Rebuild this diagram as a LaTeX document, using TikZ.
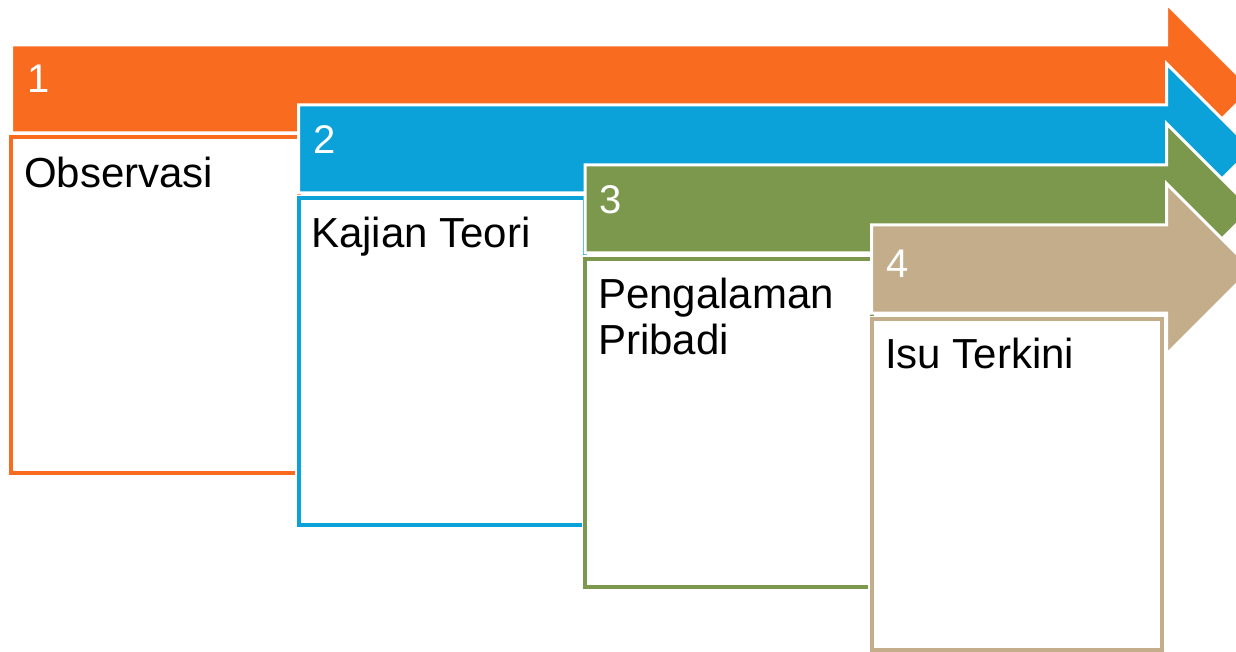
\documentclass[tikz,border=0pt]{standalone}
\usepackage{fontspec}
\setmainfont{Liberation Sans}
\usepackage{xcolor}
\usepackage{tikz}

\definecolor{stepOrange}{HTML}{F96B1E}
\definecolor{stepBlue}{HTML}{0AA2D8}
\definecolor{stepGreen}{HTML}{7C984C}
\definecolor{stepTan}{HTML}{C4AD8A}

\tikzset{
  stagearrow/.style={fill=#1, draw=white, line width=3pt, line join=miter},
  stagebox/.style={fill=white, draw=white, double=#1, double distance=4pt, line width=1.5pt},
  stagenum/.style={anchor=base west, inner sep=0pt, text=white, font=\fontsize{40}{46}\selectfont},
  stagetext/.style={anchor=base west, inner sep=0pt, text=black, align=left, font=\fontsize{42}{46}\selectfont}
}

\begin{document}
\begin{tikzpicture}[x=1pt,y=-1pt]
\useasboundingbox (0,0) rectangle (1236,652);
\clip (0,0) rectangle (1236,652);

% step 1
\draw[stagearrow=stepOrange] (11.5,45) -- (1166.5,45) -- (1166.5,3.5) -- (1252,89) -- (1166.5,174.5) -- (1166.5,133) -- (11.5,133) -- cycle;
\draw[stagebox=stepOrange] (10.5,137) rectangle (298.5,473);
\node[stagenum] (num1) at (27,93) {1};
\node[stagetext] (obs) at (24,188) {Observasi};

% step 2
\draw[stagearrow=stepBlue] (298.5,105) -- (1166.5,105) -- (1166.5,63.5) -- (1252,149) -- (1166.5,234.5) -- (1166.5,193) -- (298.5,193) -- cycle;
\draw[stagebox=stepBlue] (298.5,198.5) rectangle (585,525);
\node[stagenum] (num2) at (313,154) {2};
\node[stagetext] (teori) at (311,248) {Kajian Teori};

% step 3
\draw[stagearrow=stepGreen] (585,165) -- (1166.5,165) -- (1166.5,123.5) -- (1252,209) -- (1166.5,294.5) -- (1166.5,253) -- (585,253) -- cycle;
\draw[stagebox=stepGreen] (585,259) rectangle (871.5,587);
\node[stagenum] (num3) at (599,214) {3};
\node[stagetext] (pribadi) at (598,354) {Pengalaman\\Pribadi};

% step 4
\draw[stagearrow=stepTan] (871.5,225) -- (1166.5,225) -- (1166.5,183.5) -- (1252,269) -- (1166.5,354.5) -- (1166.5,313) -- (871.5,313) -- cycle;
\draw[stagebox=stepTan] (871.5,319) rectangle (1161.5,650);
\node[stagenum] (num4) at (886,277) {4};
\node[stagetext] (isu) at (885,368) {Isu Terkini};

\end{tikzpicture}
\end{document}
